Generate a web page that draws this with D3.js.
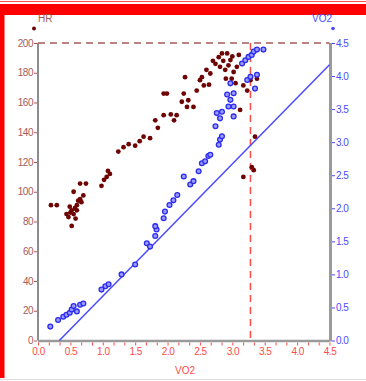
<!DOCTYPE html>
<html>
<head>
<meta charset="utf-8">
<script src="https://cdn.jsdelivr.net/npm/d3@7"></script>
<style>
  html, body { margin: 0; padding: 0; background: #fff; }
  svg { display: block; font-family: "Liberation Sans", Arial, sans-serif; }
</style>
</head>
<body>
<svg id="chart" width="366" height="381"></svg>
<script>
// Heart rate against VO2 (left axis)
const hrX = [0.20, 0.29, 0.44, 0.47, 0.49, 0.52, 0.52, 0.55, 0.55, 0.60, 0.60, 0.65, 0.65, 0.67, 0.70, 0.74,
  0.57, 0.62, 0.50, 0.58,
  0.98, 1.02, 1.06, 1.08, 1.11, 1.24, 1.32, 1.40, 1.50, 1.57, 1.63, 1.73, 1.81, 1.94, 1.94, 1.99,
  1.85, 2.05, 2.10,
  2.14, 2.22, 2.25, 2.27, 2.30, 2.32, 2.40, 2.45, 2.50, 2.53, 2.56, 2.66, 2.74, 2.79, 2.81, 2.84,
  2.60, 2.70, 2.86, 3.00, 3.10, 2.90, 2.64,
  2.89, 2.92, 2.94, 2.97, 2.99, 3.02, 3.05, 3.07, 3.12, 3.15, 3.17, 3.23, 3.28, 3.38, 3.35, 3.30, 3.33, 3.17];
const hrY = [91, 91, 85, 83, 90, 87.5, 77, 85, 100, 91, 87.5, 95, 105.5, 93, 97.5, 105.5,
  89, 94, 86, 82,
  104, 108, 110, 114, 112, 127, 130, 132, 131, 134, 137, 136, 148, 151.5, 166, 166,
  143, 152, 148,
  151.5, 160.5, 166, 177, 157, 161.5, 157, 168, 175, 177, 171.5, 179.5, 186, 190.5, 184, 193,
  182, 188, 188, 191, 192, 176, 172,
  182, 193, 185, 188.5, 176, 180.5, 173, 184, 155, 186, 171.5, 168, 175, 176, 137, 116.5, 114.5, 110];

// Oxygen uptake against VO2 (right axis)
const vo2X = [0.19, 0.31, 0.39, 0.44, 0.49, 0.52, 0.55, 0.60, 0.65, 0.70,
  0.98, 1.04, 1.09, 1.29, 1.50, 1.68, 1.73, 1.81, 1.83, 1.81, 1.94, 1.96,
  2.03, 2.09, 2.15, 2.25, 2.35, 2.40, 2.48, 2.53, 2.58, 2.63, 2.66, 2.79, 2.81, 2.84,
  2.74, 2.76, 2.84, 2.81, 2.94, 2.97, 3.02, 2.92, 3.02, 2.97, 3.02,
  3.23, 3.28, 3.15, 3.20, 3.25, 3.30, 3.33, 3.38, 3.48, 3.38, 3.35];
const vo2Y = [0.21, 0.31, 0.36, 0.39, 0.42, 0.47, 0.52, 0.44, 0.54, 0.56,
  0.77, 0.82, 0.85, 1.00, 1.15, 1.47, 1.42, 1.58, 1.68, 1.73, 1.85, 1.95,
  2.05, 2.12, 2.20, 2.48, 2.36, 2.41, 2.56, 2.68, 2.71, 2.79, 2.81, 2.96, 3.04, 3.09,
  3.24, 3.44, 3.46, 3.36, 3.54, 3.64, 3.54, 3.72, 3.74, 3.89, 3.39,
  3.94, 3.99, 4.19, 4.24, 4.29, 4.32, 4.37, 4.40, 4.40, 4.02, 3.81];

// Reference line and markers
const refLineX = [0.33, 4.5];
const refLineY = [0, 4.17];
const hrMax = 200;
const thresholdVO2 = 3.28;

const xTicks = [0.0, 0.5, 1.0, 1.5, 2.0, 2.5, 3.0, 3.5, 4.0, 4.5];
const hrTicks = [0, 20, 40, 60, 80, 100, 120, 140, 160, 180, 200];
const vo2Ticks = [0.0, 0.5, 1.0, 1.5, 2.0, 2.5, 3.0, 3.5, 4.0, 4.5];

const svg = d3.select("#chart");
const L = 38, R = 329.5, T = 43, B = 340.5;

const x = d3.scaleLinear().domain([0, 4.5]).range([L, R]);
const yHR = d3.scaleLinear().domain([0, 200]).range([B, T]);
const yVO = d3.scaleLinear().domain([0, 4.5]).range([B, T]);

const brown = "#a85a5a", maroon = "#6e0404", blue = "#4a4aff", red = "#ff4a4a";

// Page frame
svg.append("rect").attr("x", 0).attr("y", 1).attr("width", 366).attr("height", 1).attr("fill", red);
svg.append("rect").attr("x", 0).attr("y", 4).attr("width", 366).attr("height", 11).attr("fill", "#ff0000");
svg.append("rect").attr("x", 0).attr("y", 4).attr("width", 4.5).attr("height", 374).attr("fill", "#ff0000");
svg.append("rect").attr("x", 0).attr("y", 379).attr("width", 366).attr("height", 1).attr("fill", "#dddddd");

// Axis frame lines
svg.append("line").attr("x1", L).attr("x2", L).attr("y1", T).attr("y2", B)
  .attr("stroke", "#8c8c8c").attr("stroke-width", 2);
svg.append("line").attr("x1", R + 1).attr("x2", R + 1).attr("y1", T).attr("y2", B + 1)
  .attr("stroke", "#9a9a9a").attr("stroke-width", 3);
svg.append("line").attr("x1", L).attr("x2", R).attr("y1", B + 0.5).attr("y2", B + 0.5)
  .attr("stroke", "#9a9a9a").attr("stroke-width", 2.5);

// Left axis (HR)
const gL = svg.append("g").attr("transform", `translate(${L - 1},0)`)
  .call(d3.axisLeft(yHR).tickValues(hrTicks).tickSize(3).tickPadding(1).tickFormat(d3.format("d")));
gL.select(".domain").remove();
gL.selectAll("line").attr("stroke", brown);
gL.selectAll("text").attr("fill", brown).attr("font-size", 10).style("letter-spacing", "-0.5px");

// Right axis (VO2)
const gR = svg.append("g").attr("transform", `translate(${R + 2.5},0)`)
  .call(d3.axisRight(yVO).tickValues(vo2Ticks).tickSize(3).tickPadding(1).tickFormat(d3.format(".1f")));
gR.select(".domain").remove();
gR.selectAll("line").attr("stroke", blue);
gR.selectAll("text").attr("fill", blue).attr("font-size", 10).style("letter-spacing", "-0.5px");

// Bottom axis with minor ticks
const minorTicks = d3.range(0, 28).map(i => i * 0.5 / 3);
const gM = svg.append("g").attr("transform", `translate(0,${B + 2})`)
  .call(d3.axisBottom(x).tickValues(minorTicks).tickSize(3).tickFormat(""));
gM.select(".domain").remove();
gM.selectAll("line").attr("stroke", red);
const gB = svg.append("g").attr("transform", `translate(0,${B + 2})`)
  .call(d3.axisBottom(x).tickValues(xTicks).tickSize(0).tickPadding(5).tickFormat(d3.format(".1f")));
gB.select(".domain").remove();
gB.selectAll("text").attr("fill", red).attr("font-size", 10).style("letter-spacing", "-0.5px");

// Axis titles
svg.append("text").attr("x", 185).attr("y", 374).attr("text-anchor", "middle")
  .attr("fill", red).attr("font-size", 10).text("VO2");
svg.append("text").attr("x", 38).attr("y", 22).attr("fill", brown).attr("font-size", 10).text("HR");
svg.append("text").attr("x", 332).attr("y", 22).attr("text-anchor", "end")
  .attr("fill", blue).attr("font-size", 10).text("VO2");
svg.append("circle").attr("cx", 34).attr("cy", 28.5).attr("r", 2).attr("fill", maroon);
svg.append("circle").attr("cx", 333).attr("cy", 28.5).attr("r", 1.8).attr("fill", blue);

// Reference lines
svg.append("line").attr("x1", L).attr("x2", R).attr("y1", yHR(hrMax)).attr("y2", yHR(hrMax))
  .attr("stroke", brown).attr("stroke-width", 1.5).attr("stroke-dasharray", "7,5");
svg.append("line").attr("x1", x(thresholdVO2)).attr("x2", x(thresholdVO2))
  .attr("y1", T).attr("y2", B).attr("stroke", red).attr("stroke-width", 1.5)
  .attr("stroke-dasharray", "7,5");
svg.append("line").attr("x1", x(refLineX[0])).attr("y1", yVO(refLineY[0]))
  .attr("x2", x(refLineX[1])).attr("y2", yVO(refLineY[1]))
  .attr("stroke", blue).attr("stroke-width", 1.5);

// HR points
svg.append("g").selectAll("circle").data(hrX).join("circle")
  .attr("cx", (d, i) => x(d)).attr("cy", (d, i) => yHR(hrY[i]))
  .attr("r", 2.4).attr("fill", maroon);

// VO2 points
svg.append("g").selectAll("circle").data(vo2X).join("circle")
  .attr("cx", (d, i) => x(d)).attr("cy", (d, i) => yVO(vo2Y[i]))
  .attr("r", 2.4).attr("fill", "#9a9aff").attr("stroke", "#2b2bf0").attr("stroke-width", 1.3);
</script>
</body>
</html>
